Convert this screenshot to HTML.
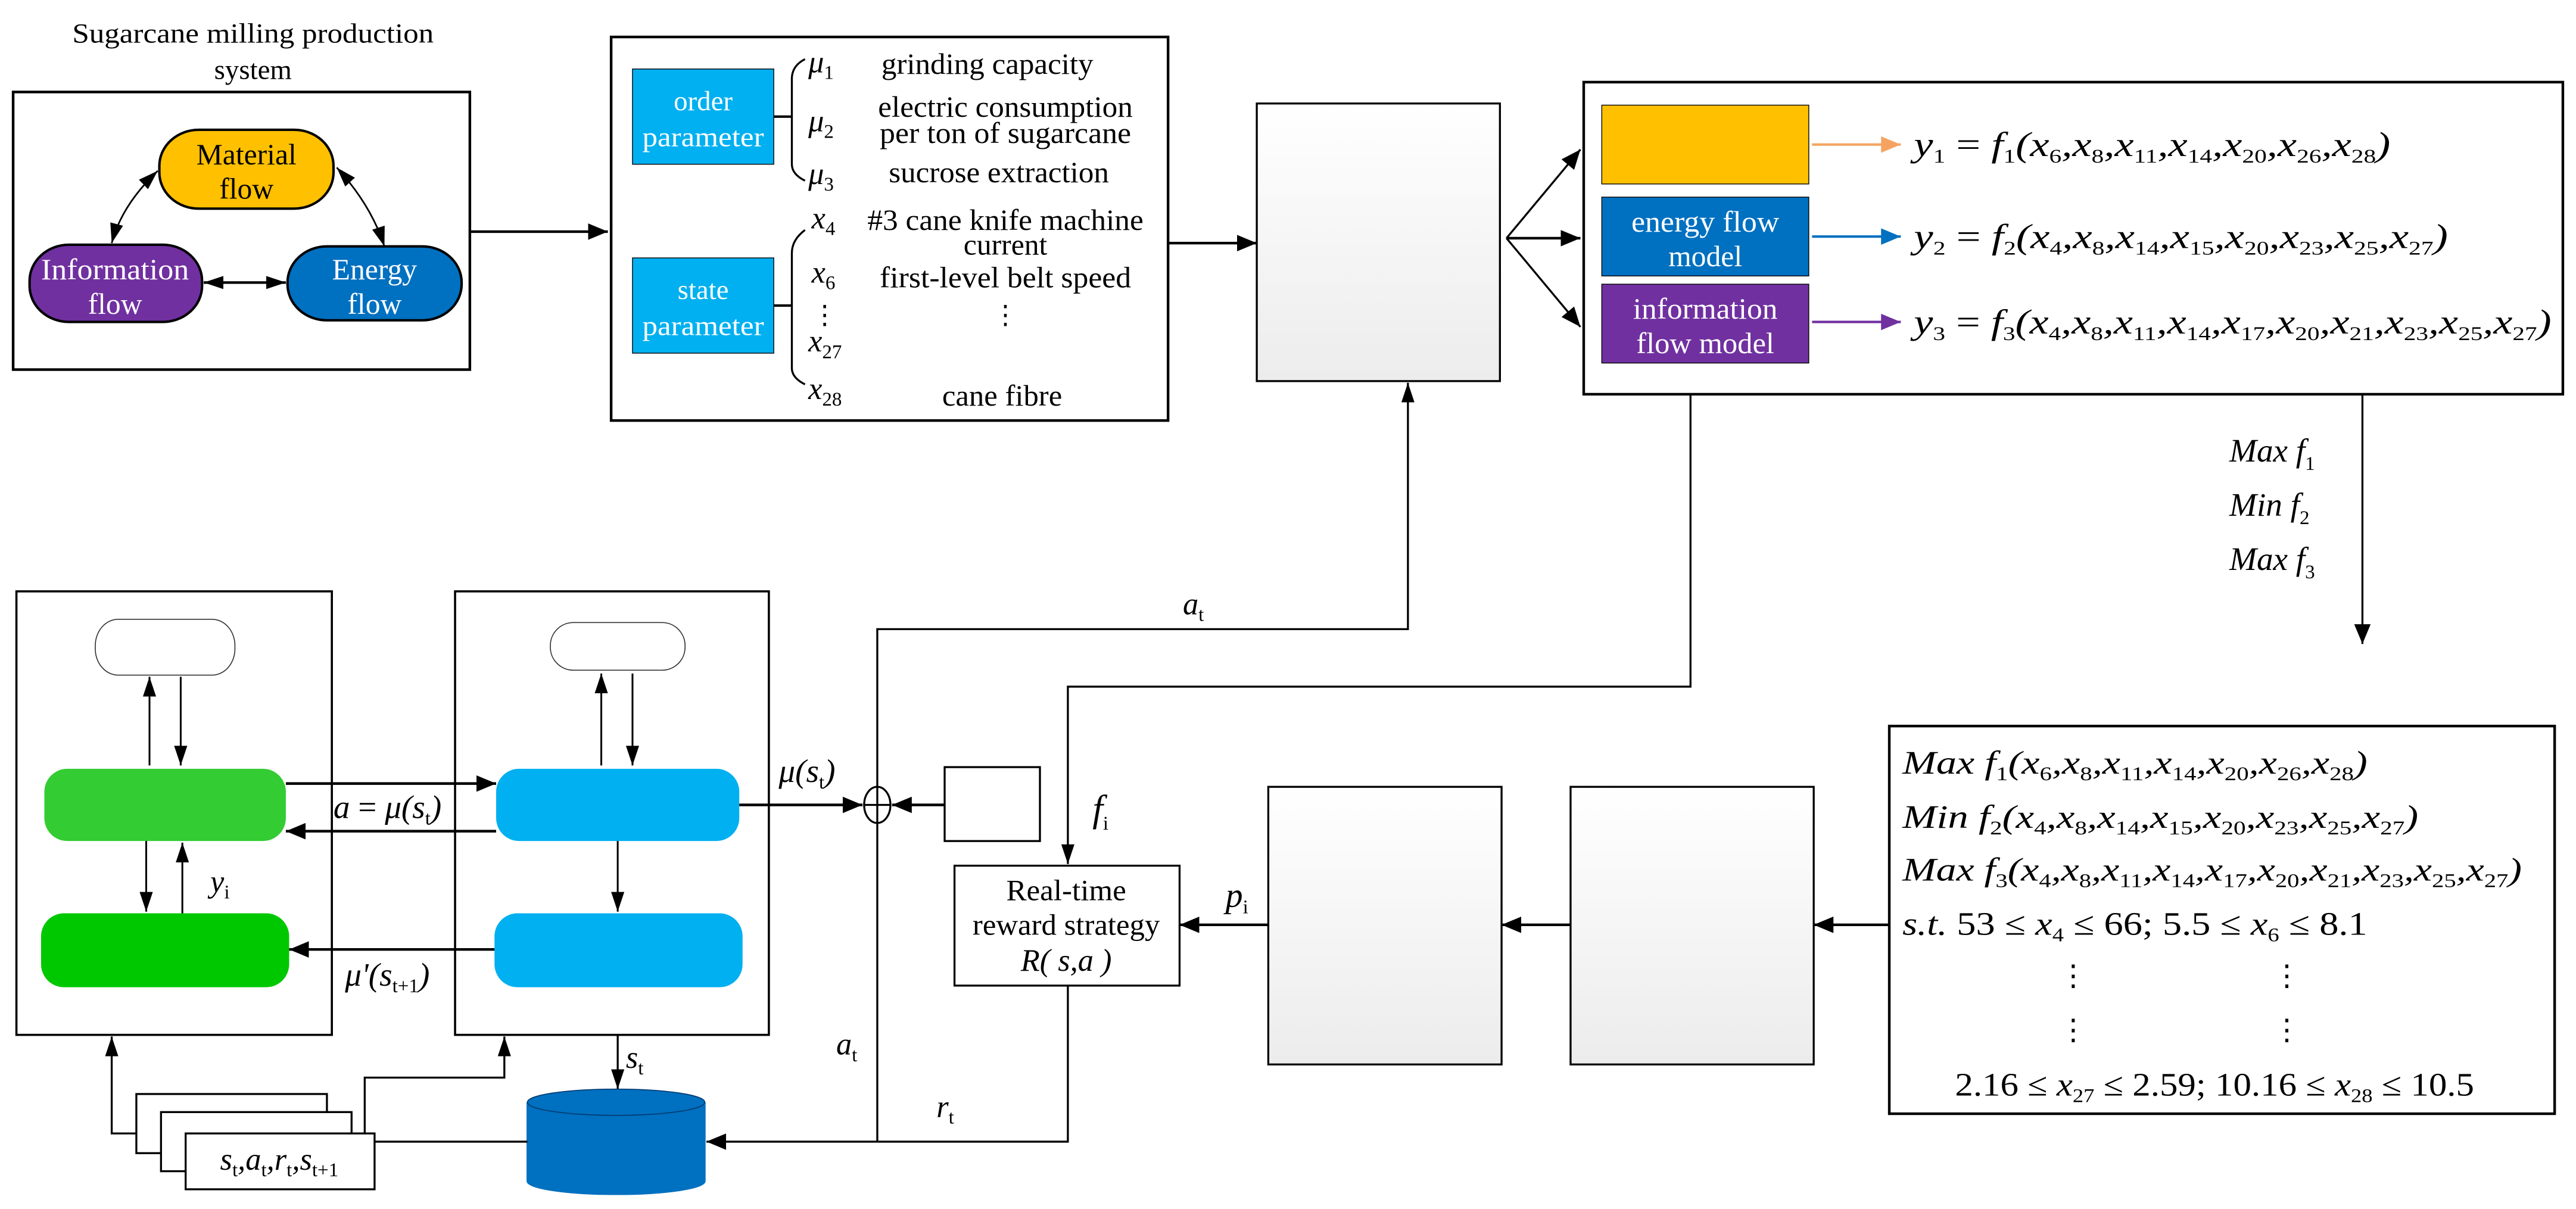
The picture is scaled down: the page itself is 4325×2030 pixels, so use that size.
<!DOCTYPE html>
<html><head><meta charset="utf-8"><style>
html,body{margin:0;padding:0;background:#fff;}
svg{display:block;font-family:"Liberation Serif","DejaVu Serif","Noto Serif CJK SC",serif;}
svg text, svg tspan{font-family:"Liberation Serif","DejaVu Serif","Noto Serif CJK SC",serif;}
text{fill:#000;}
.i{font-style:italic;}
.s{font-size:12px;font-style:normal;}
.w{fill:#fff;}
</style></head><body>
<svg width="4325" height="2030" viewBox="0 0 1568 736" preserveAspectRatio="none" xmlns="http://www.w3.org/2000/svg">
<defs>
<marker id="a" markerUnits="userSpaceOnUse" markerWidth="12" markerHeight="10" refX="12" refY="5" orient="auto"><path d="M0,0 L12,5 L0,10 Z" fill="#000"/></marker>
<marker id="b" markerUnits="userSpaceOnUse" markerWidth="12" markerHeight="8" refX="12" refY="4" orient="auto-start-reverse"><path d="M0,0 L12,4 L0,8 Z" fill="#000"/></marker>
<marker id="ao" markerUnits="userSpaceOnUse" markerWidth="12" markerHeight="10" refX="12" refY="5" orient="auto"><path d="M0,0 L12,5 L0,10 Z" fill="#F4A460"/></marker>
<marker id="ab" markerUnits="userSpaceOnUse" markerWidth="12" markerHeight="10" refX="12" refY="5" orient="auto"><path d="M0,0 L12,5 L0,10 Z" fill="#0070C0"/></marker>
<marker id="ap" markerUnits="userSpaceOnUse" markerWidth="12" markerHeight="10" refX="12" refY="5" orient="auto"><path d="M0,0 L12,5 L0,10 Z" fill="#7030A0"/></marker>
<linearGradient id="g" x1="0" y1="0" x2="0" y2="1"><stop offset="0" stop-color="#ffffff"/><stop offset="1" stop-color="#ececec"/></linearGradient>
</defs>

<!-- Box1 -->
<text x="154" y="26" font-size="17" text-anchor="middle" textLength="220" lengthAdjust="spacingAndGlyphs">Sugarcane milling production</text>
<text x="154" y="48" font-size="17" text-anchor="middle">system</text>
<rect x="8" y="56" width="278" height="169" fill="none" stroke="#000" stroke-width="1.6"/>
<rect x="97" y="79" width="106" height="48" rx="24" ry="22" fill="#FFC000" stroke="#000" stroke-width="1.5"/>
<text x="150" y="100" font-size="18" text-anchor="middle">Material</text>
<text x="150" y="121" font-size="18" text-anchor="middle">flow</text>
<rect x="18" y="149" width="105" height="47" rx="24" ry="22" fill="#7030A0" stroke="#000" stroke-width="1.5"/>
<text x="70" y="170" font-size="18" text-anchor="middle" class="w" textLength="90" lengthAdjust="spacingAndGlyphs">Information</text>
<text x="70" y="191" font-size="18" text-anchor="middle" class="w">flow</text>
<rect x="175" y="150" width="106" height="45" rx="24" ry="22" fill="#0070C0" stroke="#000" stroke-width="1.5"/>
<text x="228" y="170" font-size="18" text-anchor="middle" class="w">Energy</text>
<text x="228" y="191" font-size="18" text-anchor="middle" class="w">flow</text>
<line x1="124" y1="172" x2="174" y2="172" stroke="#000" stroke-width="1.6" marker-start="url(#b)" marker-end="url(#b)"/>
<path d="M96,104 Q74,125 68,148" fill="none" stroke="#000" stroke-width="1" marker-start="url(#b)" marker-end="url(#b)"/>
<path d="M205,102 Q226,125 234,150" fill="none" stroke="#000" stroke-width="1" marker-start="url(#b)" marker-end="url(#b)"/>
<line x1="286" y1="141" x2="370" y2="141" stroke="#000" stroke-width="1.6" marker-end="url(#a)"/>

<!-- Box2 -->
<rect x="372" y="22.5" width="339" height="233.5" fill="none" stroke="#000" stroke-width="1.6"/>
<rect x="385" y="42" width="86" height="58" fill="#00B0F0" stroke="#000" stroke-width="0.5"/>
<text x="428" y="67" font-size="17" text-anchor="middle" class="w">order</text>
<text x="428" y="89" font-size="17" text-anchor="middle" class="w" textLength="74" lengthAdjust="spacingAndGlyphs">parameter</text>
<rect x="385" y="157" width="86" height="58" fill="#00B0F0" stroke="#000" stroke-width="0.5"/>
<text x="428" y="182" font-size="17" text-anchor="middle" class="w">state</text>
<text x="428" y="204" font-size="17" text-anchor="middle" class="w" textLength="74" lengthAdjust="spacingAndGlyphs">parameter</text>
<line x1="471" y1="71" x2="482" y2="71" stroke="#000" stroke-width="1.5"/>
<path d="M490,36 Q482,40 482,48 L482,100 Q482,106 490,110" fill="none" stroke="#000" stroke-width="1.2"/>
<line x1="471" y1="186" x2="482" y2="186" stroke="#000" stroke-width="1.5"/>
<path d="M490,140 Q482,146 482,154 L482,224 Q482,230 490,234" fill="none" stroke="#000" stroke-width="1.2"/>
<text x="492" y="44" font-size="19" class="i">μ<tspan class="s i" dy="4">1</tspan></text>
<text x="492" y="80" font-size="19" class="i">μ<tspan class="s i" dy="4">2</tspan></text>
<text x="492" y="112" font-size="19" class="i">μ<tspan class="s i" dy="4">3</tspan></text>
<text x="601" y="45" font-size="18" text-anchor="middle" textLength="129" lengthAdjust="spacingAndGlyphs">grinding capacity</text>
<text x="612" y="71" font-size="18" text-anchor="middle" textLength="155" lengthAdjust="spacingAndGlyphs">electric consumption</text>
<text x="612" y="87" font-size="18" text-anchor="middle" textLength="153" lengthAdjust="spacingAndGlyphs">per ton of sugarcane</text>
<text x="608" y="111" font-size="18" text-anchor="middle" textLength="134" lengthAdjust="spacingAndGlyphs">sucrose extraction</text>
<text x="494" y="139" font-size="19" class="i">x<tspan class="s i" dy="4">4</tspan></text>
<text x="612" y="140" font-size="18" text-anchor="middle" textLength="168" lengthAdjust="spacingAndGlyphs">#3 cane knife machine</text>
<text x="612" y="155" font-size="18" text-anchor="middle">current</text>
<text x="494" y="172" font-size="19" class="i">x<tspan class="s i" dy="4">6</tspan></text>
<text x="612" y="175" font-size="18" text-anchor="middle" textLength="153" lengthAdjust="spacingAndGlyphs">first-level belt speed</text>
<text x="502" y="197" font-size="16" text-anchor="middle">⋮</text>
<text x="612" y="197" font-size="16" text-anchor="middle">⋮</text>
<text x="492" y="214" font-size="19" class="i">x<tspan class="s i" dy="4">27</tspan></text>
<text x="492" y="243" font-size="19" class="i">x<tspan class="s i" dy="4">28</tspan></text>
<text x="610" y="247" font-size="18" text-anchor="middle" textLength="73" lengthAdjust="spacingAndGlyphs">cane fibre</text>
<line x1="711" y1="148" x2="765" y2="148" stroke="#000" stroke-width="1.6" marker-end="url(#a)"/>

<!-- Box3 -->
<rect x="765" y="63" width="148" height="169" fill="url(#g)" stroke="#000" stroke-width="1.2"/>
<line x1="917" y1="145" x2="962" y2="91" stroke="#000" stroke-width="1.2" marker-end="url(#a)"/>
<line x1="917" y1="145" x2="962" y2="145" stroke="#000" stroke-width="1.6" marker-end="url(#a)"/>
<line x1="917" y1="145" x2="962" y2="199" stroke="#000" stroke-width="1.2" marker-end="url(#a)"/>

<!-- Box4 -->
<rect x="964" y="50" width="596" height="190" fill="none" stroke="#000" stroke-width="1.6"/>
<rect x="975" y="64" width="126" height="48" fill="#FFC000" stroke="#000" stroke-width="0.5"/>
<rect x="975" y="120" width="126" height="48" fill="#0070C0" stroke="#000" stroke-width="0.5"/>
<text x="1038" y="141" font-size="18" text-anchor="middle" class="w" textLength="90" lengthAdjust="spacingAndGlyphs">energy flow</text>
<text x="1038" y="162" font-size="18" text-anchor="middle" class="w">model</text>
<rect x="975" y="173" width="126" height="48" fill="#7030A0" stroke="#000" stroke-width="0.5"/>
<text x="1038" y="194" font-size="18" text-anchor="middle" class="w" textLength="88" lengthAdjust="spacingAndGlyphs">information</text>
<text x="1038" y="215" font-size="18" text-anchor="middle" class="w" textLength="84" lengthAdjust="spacingAndGlyphs">flow model</text>
<line x1="1103" y1="88" x2="1157" y2="88" stroke="#F4A460" stroke-width="1.5" marker-end="url(#ao)"/>
<line x1="1103" y1="144" x2="1157" y2="144" stroke="#0070C0" stroke-width="1.5" marker-end="url(#ab)"/>
<line x1="1103" y1="196" x2="1157" y2="196" stroke="#7030A0" stroke-width="1.5" marker-end="url(#ap)"/>

<text x="1165" y="95" font-size="21" class="i" textLength="290" lengthAdjust="spacingAndGlyphs"><tspan>y</tspan><tspan class="s" dy="4">1</tspan><tspan dy="-4" font-style="normal"> = </tspan><tspan>f</tspan><tspan class="s" dy="4">1</tspan><tspan dy="-4">(x</tspan><tspan class="s" dy="4">6</tspan><tspan dy="-4">,x</tspan><tspan class="s" dy="4">8</tspan><tspan dy="-4">,x</tspan><tspan class="s" dy="4">11</tspan><tspan dy="-4">,x</tspan><tspan class="s" dy="4">14</tspan><tspan dy="-4">,x</tspan><tspan class="s" dy="4">20</tspan><tspan dy="-4">,x</tspan><tspan class="s" dy="4">26</tspan><tspan dy="-4">,x</tspan><tspan class="s" dy="4">28</tspan><tspan dy="-4">)</tspan></text>
<text x="1165" y="151" font-size="21" class="i" textLength="325" lengthAdjust="spacingAndGlyphs"><tspan>y</tspan><tspan class="s" dy="4">2</tspan><tspan dy="-4" font-style="normal"> = </tspan><tspan>f</tspan><tspan class="s" dy="4">2</tspan><tspan dy="-4">(x</tspan><tspan class="s" dy="4">4</tspan><tspan dy="-4">,x</tspan><tspan class="s" dy="4">8</tspan><tspan dy="-4">,x</tspan><tspan class="s" dy="4">14</tspan><tspan dy="-4">,x</tspan><tspan class="s" dy="4">15</tspan><tspan dy="-4">,x</tspan><tspan class="s" dy="4">20</tspan><tspan dy="-4">,x</tspan><tspan class="s" dy="4">23</tspan><tspan dy="-4">,x</tspan><tspan class="s" dy="4">25</tspan><tspan dy="-4">,x</tspan><tspan class="s" dy="4">27</tspan><tspan dy="-4">)</tspan></text>
<text x="1165" y="203" font-size="21" class="i" textLength="388" lengthAdjust="spacingAndGlyphs"><tspan>y</tspan><tspan class="s" dy="4">3</tspan><tspan dy="-4" font-style="normal"> = </tspan><tspan>f</tspan><tspan class="s" dy="4">3</tspan><tspan dy="-4">(x</tspan><tspan class="s" dy="4">4</tspan><tspan dy="-4">,x</tspan><tspan class="s" dy="4">8</tspan><tspan dy="-4">,x</tspan><tspan class="s" dy="4">11</tspan><tspan dy="-4">,x</tspan><tspan class="s" dy="4">14</tspan><tspan dy="-4">,x</tspan><tspan class="s" dy="4">17</tspan><tspan dy="-4">,x</tspan><tspan class="s" dy="4">20</tspan><tspan dy="-4">,x</tspan><tspan class="s" dy="4">21</tspan><tspan dy="-4">,x</tspan><tspan class="s" dy="4">23</tspan><tspan dy="-4">,x</tspan><tspan class="s" dy="4">25</tspan><tspan dy="-4">,x</tspan><tspan class="s" dy="4">27</tspan><tspan dy="-4">)</tspan></text>

<!-- Max/Min objectives -->
<line x1="1438" y1="240" x2="1438" y2="392" stroke="#000" stroke-width="1.2" marker-end="url(#a)"/>
<text x="1357" y="281" font-size="20" class="i">Max   f<tspan class="s" dy="5">1</tspan></text>
<text x="1357" y="314" font-size="20" class="i">Min  f<tspan class="s" dy="5">2</tspan></text>
<text x="1357" y="347" font-size="20" class="i">Max  f<tspan class="s" dy="5">3</tspan></text>

<!-- Box5 -->
<rect x="1150" y="442" width="405" height="236" fill="none" stroke="#000" stroke-width="1.6"/>
<text x="1158" y="471" font-size="20" class="i" textLength="283" lengthAdjust="spacingAndGlyphs"><tspan>Max  f</tspan><tspan class="s" dy="4">1</tspan><tspan dy="-4">(x</tspan><tspan class="s" dy="4">6</tspan><tspan dy="-4">,x</tspan><tspan class="s" dy="4">8</tspan><tspan dy="-4">,x</tspan><tspan class="s" dy="4">11</tspan><tspan dy="-4">,x</tspan><tspan class="s" dy="4">14</tspan><tspan dy="-4">,x</tspan><tspan class="s" dy="4">20</tspan><tspan dy="-4">,x</tspan><tspan class="s" dy="4">26</tspan><tspan dy="-4">,x</tspan><tspan class="s" dy="4">28</tspan><tspan dy="-4">)</tspan></text>
<text x="1158" y="504" font-size="20" class="i" textLength="314" lengthAdjust="spacingAndGlyphs"><tspan>Min  f</tspan><tspan class="s" dy="4">2</tspan><tspan dy="-4">(x</tspan><tspan class="s" dy="4">4</tspan><tspan dy="-4">,x</tspan><tspan class="s" dy="4">8</tspan><tspan dy="-4">,x</tspan><tspan class="s" dy="4">14</tspan><tspan dy="-4">,x</tspan><tspan class="s" dy="4">15</tspan><tspan dy="-4">,x</tspan><tspan class="s" dy="4">20</tspan><tspan dy="-4">,x</tspan><tspan class="s" dy="4">23</tspan><tspan dy="-4">,x</tspan><tspan class="s" dy="4">25</tspan><tspan dy="-4">,x</tspan><tspan class="s" dy="4">27</tspan><tspan dy="-4">)</tspan></text>
<text x="1158" y="536" font-size="20" class="i" textLength="377" lengthAdjust="spacingAndGlyphs"><tspan>Max  f</tspan><tspan class="s" dy="4">3</tspan><tspan dy="-4">(x</tspan><tspan class="s" dy="4">4</tspan><tspan dy="-4">,x</tspan><tspan class="s" dy="4">8</tspan><tspan dy="-4">,x</tspan><tspan class="s" dy="4">11</tspan><tspan dy="-4">,x</tspan><tspan class="s" dy="4">14</tspan><tspan dy="-4">,x</tspan><tspan class="s" dy="4">17</tspan><tspan dy="-4">,x</tspan><tspan class="s" dy="4">20</tspan><tspan dy="-4">,x</tspan><tspan class="s" dy="4">21</tspan><tspan dy="-4">,x</tspan><tspan class="s" dy="4">23</tspan><tspan dy="-4">,x</tspan><tspan class="s" dy="4">25</tspan><tspan dy="-4">,x</tspan><tspan class="s" dy="4">27</tspan><tspan dy="-4">)</tspan></text>
<text x="1158" y="569" font-size="20" textLength="283" lengthAdjust="spacingAndGlyphs"><tspan class="i">s.t.    </tspan><tspan>53 ≤ </tspan><tspan class="i">x</tspan><tspan class="s" dy="4">4</tspan><tspan dy="-4"> ≤ 66;   5.5 ≤ </tspan><tspan class="i">x</tspan><tspan class="s" dy="4">6</tspan><tspan dy="-4"> ≤ 8.1</tspan></text>
<text x="1262" y="600" font-size="18" text-anchor="middle">⋮</text>
<text x="1392" y="600" font-size="18" text-anchor="middle">⋮</text>
<text x="1262" y="633" font-size="18" text-anchor="middle">⋮</text>
<text x="1392" y="633" font-size="18" text-anchor="middle">⋮</text>
<text x="1190" y="667" font-size="20" textLength="316" lengthAdjust="spacingAndGlyphs"><tspan>2.16 ≤ </tspan><tspan class="i">x</tspan><tspan class="s" dy="4">27</tspan><tspan dy="-4"> ≤ 2.59;   10.16 ≤ </tspan><tspan class="i">x</tspan><tspan class="s" dy="4">28</tspan><tspan dy="-4"> ≤ 10.5</tspan></text>

<!-- Box6/7 -->
<rect x="956" y="479" width="148" height="169" fill="url(#g)" stroke="#000" stroke-width="1.2"/>
<rect x="772" y="479" width="142" height="169" fill="url(#g)" stroke="#000" stroke-width="1.2"/>
<line x1="1150" y1="563" x2="1104" y2="563" stroke="#000" stroke-width="1.6" marker-end="url(#a)"/>
<line x1="956" y1="563" x2="914" y2="563" stroke="#000" stroke-width="1.6" marker-end="url(#a)"/>
<line x1="772" y1="563" x2="718" y2="563" stroke="#000" stroke-width="1.6" marker-end="url(#a)"/>
<text x="746" y="552" font-size="21" class="i">p<tspan class="s i" dy="4">i</tspan></text>

<!-- Real-time -->
<rect x="581" y="527" width="137" height="73" fill="#fff" stroke="#000" stroke-width="1.2"/>
<text x="649" y="548" font-size="18" text-anchor="middle" textLength="73" lengthAdjust="spacingAndGlyphs">Real-time</text>
<text x="649" y="569" font-size="18" text-anchor="middle" textLength="114" lengthAdjust="spacingAndGlyphs">reward strategy</text>
<text x="649" y="591" font-size="19" text-anchor="middle" class="i">R( s,a )</text>

<!-- f line -->
<polyline points="1029,240 1029,418 650,418 650,526" fill="none" stroke="#000" stroke-width="1.2" marker-end="url(#b)"/>
<text x="665" y="500" font-size="23" class="i">f<tspan class="s i" dy="5">i</tspan></text>
<!-- a_t line -->
<polyline points="534,695 534,383 857,383 857,233" fill="none" stroke="#000" stroke-width="1.2" marker-end="url(#b)"/>
<text x="720" y="374" font-size="19" class="i">a<tspan class="s i" dy="4">t</tspan></text>
<text x="509" y="642" font-size="19" class="i">a<tspan class="s i" dy="4">t</tspan></text>
<!-- r_t -->
<polyline points="650,600 650,695 430,695" fill="none" stroke="#000" stroke-width="1.2" marker-end="url(#a)"/>
<text x="570" y="680" font-size="19" class="i">r<tspan class="s i" dy="4">t</tspan></text>

<!-- lower boxes -->
<rect x="10" y="360" width="192" height="270" fill="none" stroke="#000" stroke-width="1.3"/>
<rect x="277" y="360" width="191" height="270" fill="none" stroke="#000" stroke-width="1.3"/>
<rect x="58" y="377" width="85" height="34" rx="14" ry="16" fill="#fff" stroke="#333" stroke-width="0.6"/>
<rect x="335" y="379" width="82" height="29" rx="14" ry="14" fill="#fff" stroke="#333" stroke-width="0.6"/>
<rect x="27" y="468" width="147" height="44" rx="14" ry="14" fill="#33CC33"/>
<rect x="25" y="556" width="151" height="45" rx="14" ry="14" fill="#00C800"/>
<rect x="302" y="468" width="148" height="44" rx="14" ry="14" fill="#00B0F0"/>
<rect x="301" y="556" width="151" height="45" rx="14" ry="14" fill="#00B0F0"/>
<line x1="91" y1="466" x2="91" y2="412" stroke="#000" stroke-width="1.1" marker-end="url(#b)"/>
<line x1="110" y1="412" x2="110" y2="466" stroke="#000" stroke-width="1.1" marker-end="url(#b)"/>
<line x1="366" y1="466" x2="366" y2="410" stroke="#000" stroke-width="1.1" marker-end="url(#b)"/>
<line x1="385" y1="410" x2="385" y2="466" stroke="#000" stroke-width="1.1" marker-end="url(#b)"/>
<line x1="89" y1="512" x2="89" y2="555" stroke="#000" stroke-width="1.1" marker-end="url(#b)"/>
<line x1="111" y1="556" x2="111" y2="513" stroke="#000" stroke-width="1.1" marker-end="url(#b)"/>
<text x="128" y="543" font-size="19" class="i">y<tspan class="s i" dy="4">i</tspan></text>
<line x1="376" y1="512" x2="376" y2="555" stroke="#000" stroke-width="1.1" marker-end="url(#b)"/>
<line x1="174" y1="477" x2="302" y2="477" stroke="#000" stroke-width="1.6" marker-end="url(#a)"/>
<line x1="302" y1="506" x2="174" y2="506" stroke="#000" stroke-width="1.6" marker-end="url(#a)"/>
<text x="203" y="498" font-size="20" class="i">a <tspan font-style="normal">=</tspan> μ(s<tspan class="s i" dy="4">t</tspan><tspan dy="-4">)</tspan></text>
<line x1="301" y1="578" x2="176" y2="578" stroke="#000" stroke-width="1.6" marker-end="url(#a)"/>
<text x="210" y="600" font-size="20" class="i">μ'(s<tspan class="s i" dy="4">t+1</tspan><tspan dy="-4">)</tspan></text>
<line x1="450" y1="490" x2="525" y2="490" stroke="#000" stroke-width="1.6" marker-end="url(#a)"/>
<text x="474" y="476" font-size="20" class="i">μ(s<tspan class="s i" dy="4">t</tspan><tspan dy="-4">)</tspan></text>
<ellipse cx="534" cy="490" rx="8" ry="11" fill="#fff" stroke="#000" stroke-width="1.2"/>
<line x1="526" y1="490" x2="542" y2="490" stroke="#000" stroke-width="1.2"/>
<line x1="534" y1="479" x2="534" y2="501" stroke="#000" stroke-width="1.2"/>
<rect x="575" y="467" width="58" height="45" fill="#fff" stroke="#000" stroke-width="1.2"/>
<line x1="575" y1="490" x2="543" y2="490" stroke="#000" stroke-width="1.6" marker-end="url(#a)"/>

<!-- s_t to cylinder -->
<line x1="376" y1="630" x2="376" y2="663" stroke="#000" stroke-width="1.2" marker-end="url(#b)"/>
<text x="381" y="650" font-size="19" class="i">s<tspan class="s i" dy="4">t</tspan></text>
<!-- cylinder -->
<path d="M321,671 L321,719 A54,8 0 0 0 429,719 L429,671" fill="#0070C0" stroke="#0070C0"/>
<ellipse cx="375" cy="671" rx="54" ry="8" fill="#0070C0" stroke="#003a70" stroke-width="0.6"/>
<!-- stack -->
<rect x="83" y="666" width="116" height="36" fill="#fff" stroke="#000" stroke-width="1.2"/>
<rect x="98" y="677" width="116" height="36" fill="#fff" stroke="#000" stroke-width="1.2"/>
<rect x="113" y="690" width="115" height="34" fill="#fff" stroke="#000" stroke-width="1.2"/>
<text x="170" y="712" font-size="19" class="i" text-anchor="middle">s<tspan class="s" dy="4">t</tspan><tspan dy="-4">,a</tspan><tspan class="s" dy="4">t</tspan><tspan dy="-4">,r</tspan><tspan class="s" dy="4">t</tspan><tspan dy="-4">,s</tspan><tspan class="s" dy="4">t+1</tspan></text>
<line x1="228" y1="695" x2="321" y2="695" stroke="#000" stroke-width="1.2"/>
<polyline points="83,690 68,690 68,631" fill="none" stroke="#000" stroke-width="1.2" marker-end="url(#b)"/>
<polyline points="222,690 222,656 307,656 307,631" fill="none" stroke="#000" stroke-width="1.2" marker-end="url(#b)"/>
</svg>
</body></html>
